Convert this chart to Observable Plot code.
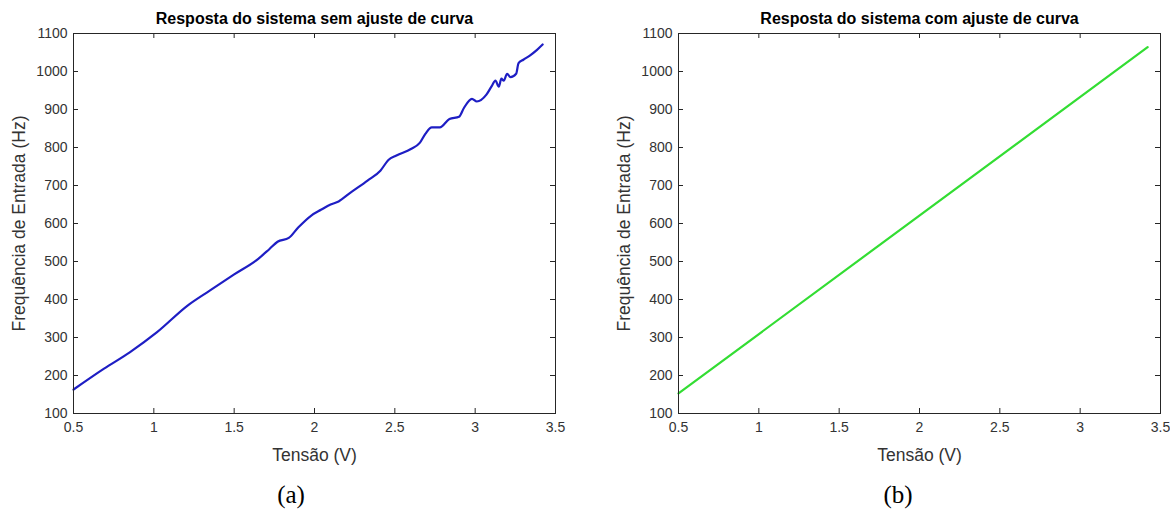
<!DOCTYPE html>
<html>
<head>
<meta charset="utf-8">
<script src="https://cdn.jsdelivr.net/npm/d3@7"></script>
<script src="https://cdn.jsdelivr.net/npm/@observablehq/plot@0.6"></script>
<style>
  html, body { margin: 0; padding: 0; background: #fff; }
  #wrap { position: relative; width: 1170px; height: 517px; overflow: hidden; background: #fff; }
  .panel { position: absolute; top: 0; }
  .cap { position: absolute; font-family: "Liberation Serif", "Times New Roman", serif; font-size: 25px; color: #000; transform: translateX(-50%); }
</style>
</head>
<body>
<div id="wrap"></div>
<script>
// ---- data ----
const xTicks = [0.5, 1, 1.5, 2, 2.5, 3, 3.5];
const yTicks = [100, 200, 300, 400, 500, 600, 700, 800, 900, 1000, 1100];

// (a) measured response, without curve fit
const rawV = [0.5, 0.69, 0.85, 1.02, 1.21, 1.35, 1.5, 1.65, 1.72, 1.77, 1.84, 1.90, 1.98, 2.04, 2.10, 2.15, 2.22, 2.33, 2.41, 2.46, 2.51, 2.60, 2.655, 2.69, 2.73, 2.78, 2.84, 2.90, 2.93, 2.98, 3.01, 3.07, 3.105, 3.126, 3.147, 3.163, 3.178, 3.199, 3.22, 3.255, 3.27, 3.30, 3.34, 3.385, 3.42];
const rawF = [163, 218, 261, 314, 384, 424, 466, 507, 533, 552, 562, 590, 621, 636, 650, 658, 680, 713, 739, 767, 779, 796, 812, 836, 853, 853, 875, 881, 904, 928, 921, 939, 963, 976, 960, 981, 976, 994, 985, 994, 1022, 1031, 1042, 1057, 1071];

// (b) response with curve fit
const fitV = [0.5, 3.42];
const fitF = [153, 1064];

const titles = ["Resposta do sistema sem ajuste de curva", "Resposta do sistema com ajuste de curva"];
const xLabel = "Tensão (V)";
const yLabel = "Frequência de Entrada (Hz)";
const captions = ["(a)", "(b)"];

// ---- drawing ----
const W = 585, H = 470, MT = 33, MB = H - 413;
const innerH = H - MT - MB;
const axisColor = "#262626";

function panel({title, V, F, color, marginLeft, marginRight}) {
  const data = V.map((v, i) => ({v, f: F[i]}));
  const innerW = W - marginLeft - marginRight;
  return Plot.plot({
    width: W, height: H,
    marginLeft, marginRight, marginTop: MT, marginBottom: MB,
    style: {fontFamily: "'Liberation Sans', Arial, sans-serif", fontSize: "14px", color: axisColor, background: "#fff", overflow: "visible"},
    x: {domain: [0.5, 3.5]},
    y: {domain: [100, 1100]},
    marks: [
      Plot.axisX({ticks: xTicks, tickSize: 0, tickPadding: 9, tickFormat: d => String(d), label: null, fontSize: 14, fill: "#333"}),
      Plot.axisY({ticks: yTicks, tickSize: 0, tickPadding: 6, tickFormat: d => String(d), label: null, fontSize: 14, fill: "#333"}),
      Plot.tickX(xTicks, {x: d => d, insetTop: innerH - 5, stroke: axisColor}),
      Plot.tickX(xTicks, {x: d => d, insetBottom: innerH - 5, stroke: axisColor}),
      Plot.tickY(yTicks, {y: d => d, insetRight: innerW - 5, stroke: axisColor}),
      Plot.tickY(yTicks, {y: d => d, insetLeft: innerW - 5, stroke: axisColor}),
      Plot.line(data, {x: "v", y: "f", stroke: color, strokeWidth: 2.2, curve: "monotone-x"}),
      Plot.frame({stroke: axisColor, strokeWidth: 1}),
      Plot.text([title], {frameAnchor: "top", dy: -15, fontSize: 16, fontWeight: "bold", fill: "#000", lineAnchor: "middle"}),
      Plot.text([xLabel], {frameAnchor: "bottom", dy: 42, fontSize: 17.5, fill: "#333", lineAnchor: "middle"}),
      Plot.text([yLabel], {frameAnchor: "left", textAnchor: "middle", dx: -54, rotate: -90, fontSize: 17.5, fill: "#333", lineAnchor: "middle"})
    ]
  });
}

const wrap = document.getElementById("wrap");
const p1 = panel({title: titles[0], V: rawV, F: rawF, color: "#1e1ec4", marginLeft: 73, marginRight: W - 555});
const p2 = panel({title: titles[1], V: fitV, F: fitF, color: "#33dd33", marginLeft: 678 - 585, marginRight: 1170 - 1160});
p1.classList.add("panel"); p1.style.left = "0px";
p2.classList.add("panel"); p2.style.left = "585px";
wrap.appendChild(p1); wrap.appendChild(p2);

[[291, captions[0]], [898, captions[1]]].forEach(([x, t]) => {
  const d = document.createElement("div");
  d.className = "cap"; d.textContent = t;
  d.style.left = x + "px"; d.style.top = "481px";
  wrap.appendChild(d);
});
</script>
</body>
</html>
